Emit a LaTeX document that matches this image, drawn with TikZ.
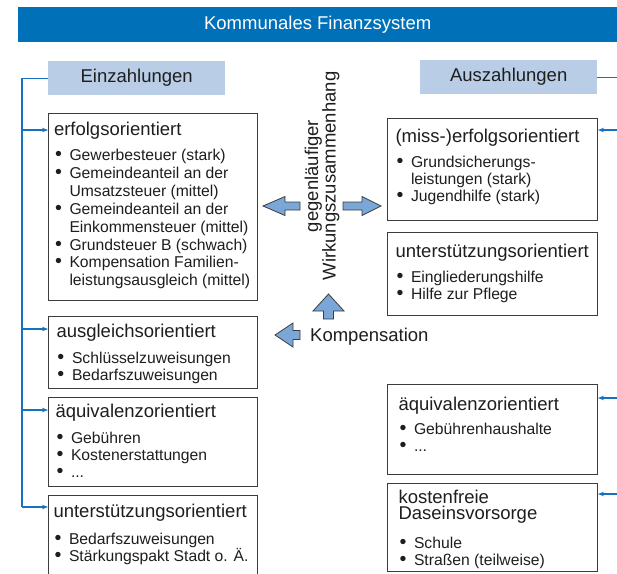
\documentclass[tikz,border=0pt]{standalone}
\usepackage{fontspec}
\setmainfont{Liberation Sans}
\usetikzlibrary{arrows.meta}
\definecolor{titleblue}{RGB}{0,112,184}
\definecolor{hdfill}{RGB}{185,205,230}
\definecolor{connblue}{RGB}{24,112,192}
\definecolor{arrfill}{RGB}{122,166,216}
\definecolor{bord}{RGB}{60,60,60}
\definecolor{txt}{RGB}{30,30,30}
\newcommand{\hf}{\fontsize{18.5}{16.5}\selectfont}
% bulleted line and continuation line
\newcommand{\itm}[1]{\noindent\makebox[15.5pt][l]{\hspace{1pt}\scalebox{1.25}{\textbullet}}#1\par}
\newcommand{\itc}[1]{\noindent\hspace*{15.5pt}#1\par}
% #1 width, #2 height, #3 first baseline, #4 left skip, #5 gap heading->item, #6 item skip, #7 heading, #8 items
\newcommand{\bxc}[8]{\begin{minipage}[t][#2pt][t]{#1pt}\raggedright\leftskip=#4pt\relax\fontsize{15.7}{#6}\selectfont{\hf\rule{0pt}{#3pt}#7\par}\vspace{\dimexpr#5pt-#6pt\relax}#8\end{minipage}}
\tikzset{
 hdbox/.style={fill=hdfill, text=txt, font=\hf, minimum width=177pt, minimum height=34pt, inner sep=0pt, anchor=north west},
 bx/.style={draw=bord, line width=1pt, fill=white, text=txt, inner sep=0pt, anchor=north west},
 conn/.style={draw=connblue, line width=1.4pt},
 conarr/.style={conn, -{Stealth[length=6pt,width=4.5pt]}},
 barrow/.style={draw=bord, line width=0.8pt, fill=arrfill, line join=miter},
}
\begin{document}
\begin{tikzpicture}[x=1pt,y=-1pt]
\useasboundingbox[fill=white] (0,0) rectangle (617,573);
% title
\node[fill=titleblue, text=white, font=\hf, minimum width=599pt, minimum height=35pt, inner sep=0pt, anchor=north west] (title) at (18,7) {Kommunales Finanzsystem};
% headers
\node[hdbox] (ein) at (48,61) {Einzahlungen};
\node[hdbox] (aus) at (420,60) {Auszahlungen};
% left boxes
\node[bx] (L1) at (48,113) {\bxc{209}{187}{21.5}{5.5}{25.5}{17.9}{erfolgsorientiert}{%
\itm{Gewerbesteuer (stark)}
\itm{Gemeindeanteil an der}
\itc{Umsatzsteuer (mittel)}
\itm{Gemeindeanteil an der}
\itc{Einkommensteuer (mittel)}
\itm{Grundsteuer B (schwach)}
\itm{Kompensation Familien-}
\itc{leistungsausgleich (mittel)}}};
\node[bx] (L2) at (48,316) {\bxc{209}{72}{20.5}{8}{26.5}{17}{ausgleichsorientiert}{%
\itm{Schlüsselzuweisungen}
\itm{Bedarfszuweisungen}}};
\node[bx] (L3) at (48,397) {\bxc{209}{89}{19.5}{7}{26.5}{17}{äquivalenzorientiert}{%
\itm{Gebühren}
\itm{Kostenerstattungen}
\itm{...}}};
\node[bx] (L4) at (48,495) {\bxc{209}{90}{22}{5}{26.5}{17}{unterstützungsorientiert}{%
\itm{Bedarfszuweisungen}
\itm{Stärkungspakt Stadt o. Ä.}}};
% right boxes
\node[bx] (R1) at (387,118) {\bxc{210}{102}{23.5}{8}{25.5}{17}{(miss-)erfolgsorientiert}{%
\itm{Grundsicherungs-}
\itc{leistungen (stark)}
\itm{Jugendhilfe (stark)}}};
\node[bx] (R2) at (387,232) {\bxc{210}{83}{25}{8}{25}{17}{unterstützungsorientiert}{%
\itm{Eingliederungshilfe}
\itm{Hilfe zur Pflege}}};
\node[bx] (R3) at (387,384) {\bxc{210}{90}{26}{11}{23.5}{17}{äquivalenzorientiert}{%
\itm{Gebührenhaushalte}
\itm{...}}};
\node[bx] (R4) at (387,483) {\bxc{210}{88}{19.5}{11}{29}{17}{kostenfreie\\Daseinsvorsorge}{%
\itm{Schule}
\itm{Straßen (teilweise)}}};
% left connectors
\coordinate (busB) at (22,507);
\coordinate (b1) at (22,130);
\coordinate (b2) at (22,329);
\coordinate (b3) at (22,410);
\draw[conn] (ein.west) -| (busB);
\draw[conarr] (b1) -- (b1 -| L1.west);
\draw[conarr] (b2) -- (b2 -| L2.west);
\draw[conarr] (b3) -- (b3 -| L3.west);
\draw[conarr] (busB) -- (busB -| L4.west);
% right connectors
\coordinate (rA) at (625,77);
\coordinate (r1) at (625,130);
\coordinate (r3) at (625,398);
\coordinate (r4) at (625,494);
\draw[conn] (aus.east) -- (aus.east -| rA);
\draw[conarr] (r1) -- (r1 -| R1.east);
\draw[conarr] (r3) -- (r3 -| R3.east);
\draw[conarr] (r4) -- (r4 -| R4.east);
% middle
\node[rotate=90, align=center, text=txt, font=\fontsize{18.5}{17.5}\selectfont] (wz) at (322,176) {gegenläufiger\\Wirkungszusammenhang};
\node[anchor=base west, text=txt, font=\hf, inner sep=0pt] (komp) at (310,341) {Kompensation};
% block arrows
\draw[barrow] (300,202) -- (285,202) -- (285,196.5) -- (263,206) -- (285,215.5) -- (285,210) -- (300,210) -- cycle;
\draw[barrow] (343,202) -- (362,202) -- (362,196.5) -- (381,206) -- (362,215.5) -- (362,210) -- (343,210) -- cycle;
\draw[barrow] (323.5,319) -- (323.5,311) -- (313,311) -- (328.5,294) -- (344,311) -- (333.5,311) -- (333.5,319) -- cycle;
\draw[barrow] (300,330.5) -- (293,330.5) -- (293,323) -- (275,335) -- (293,347) -- (293,339.5) -- (300,339.5) -- cycle;
\end{tikzpicture}
\end{document}
